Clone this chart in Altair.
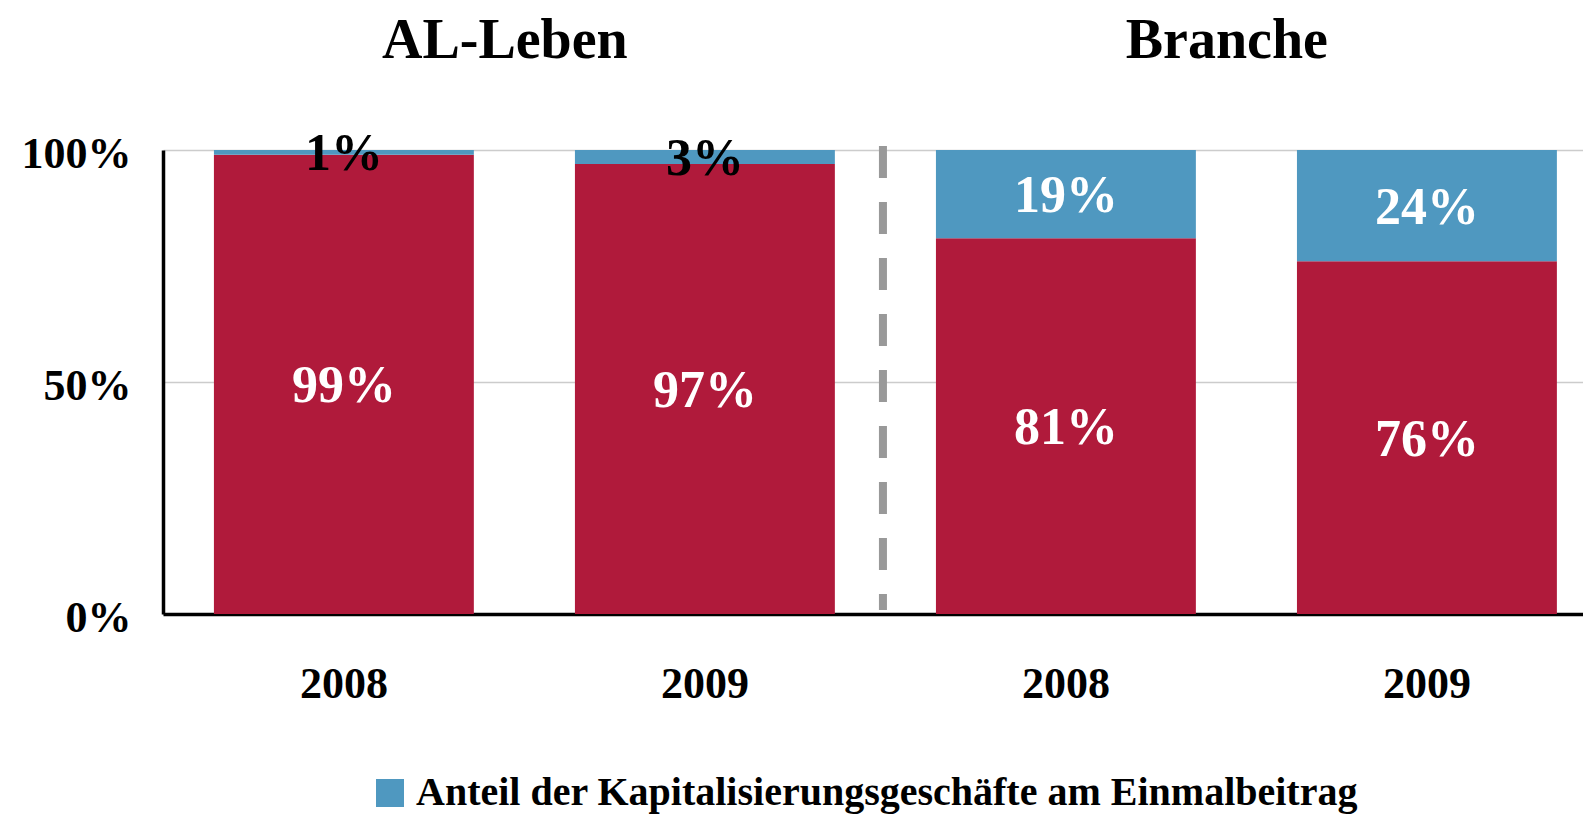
import altair as alt
import pandas as pd

groups = ["AL-Leben", "AL-Leben", "Branche", "Branche"]
years = ["2008", "2009", "2008", "2009"]
kapital = [1, 3, 19, 24]
rest = [99, 97, 81, 76]
s_kap = "Anteil der Kapitalisierungsgeschäfte am Einmalbeitrag"
s_rest = "Sonstige Einmalbeiträge"
group_titles = ["AL-Leben", "Branche"]

RED = "#B01A3B"
BLUE = "#4F98C0"
FONT = "Liberation Serif"

cats = [f"{g} {y}" for g, y in zip(groups, years)]
rows = []
for c, k, r in zip(cats, kapital, rest):
    rows.append({"cat": c, "series": s_rest, "value": r, "order": 0, "label": f"{r}%"})
    rows.append({"cat": c, "series": s_kap, "value": k, "order": 1, "label": f"{k}%"})
df = pd.DataFrame(rows)

first_cat = {}
for g, c in zip(groups, cats):
    first_cat.setdefault(g, c)
titles_df = pd.DataFrame({"cat": [first_cat[t] for t in group_titles], "title": group_titles})
sep_df = pd.DataFrame({"cat": [first_cat[group_titles[1]]]})

xscale = alt.Scale(paddingInner=0.28, paddingOuter=0.1067, align=0.661)
yscale = alt.Scale(domain=[0, 100])

x_enc = alt.X(
    "cat:N", sort=cats, scale=xscale, title=None,
    axis=alt.Axis(
        labelExpr="split(datum.label, ' ')[1]", labelAngle=0, ticks=False, tickSize=0,
        domainColor="black", domainWidth=3.5, labelFont=FONT, labelFontSize=44,
        labelFontWeight="bold", labelColor="black", labelPadding=83,
        labelBaseline="alphabetic", grid=False,
    ),
)

bars = alt.Chart(df).mark_bar().encode(
    x=x_enc,
    y=alt.Y(
        "value:Q", stack="zero", scale=yscale, title=None,
        axis=alt.Axis(
            values=[0, 50, 100], labelExpr="datum.value + '%'", grid=True,
            gridColor="#cccccc", gridWidth=1.5, domainColor="black", domainWidth=3.5,
            ticks=False, tickSize=0, labelFont=FONT, labelFontSize=44,
            labelFontWeight="bold", labelColor="black", labelPadding=32,
            labelBaseline="alphabetic", labelOffset=17,
        ),
    ),
    color=alt.Color(
        "series:N",
        scale=alt.Scale(domain=[s_kap, s_rest], range=[BLUE, RED]),
        legend=alt.Legend(
            title=None, orient="none", legendX=207, legendY=623, values=[s_kap],
            symbolType="square", symbolSize=784, symbolStrokeWidth=0,
            labelFont=FONT, labelFontSize=40, labelFontWeight="bold",
            labelColor="black", labelOffset=6, labelLimit=3000,
        ),
    ),
    order=alt.Order("order:Q"),
)

labels = (
    alt.Chart(df)
    .transform_stack(
        stack="value", groupby=["cat"], sort=[alt.SortField("order", order="ascending")],
        as_=["y0", "y1"],
    )
    .transform_calculate(mid="(datum.y0 + datum.y1) / 2")
    .mark_text(font=FONT, fontSize=52, fontWeight="bold", baseline="middle", dy=2)
    .encode(
        x=alt.X("cat:N", sort=cats, scale=xscale),
        y=alt.Y("mid:Q", scale=yscale),
        text="label:N",
        color=alt.condition(alt.datum.value < 10, alt.value("black"), alt.value("white")),
    )
)

titles = alt.Chart(titles_df).mark_text(
    font=FONT, fontSize=56, fontWeight="bold", baseline="alphabetic", align="center",
    dx=31, color="black",
).encode(
    x=alt.X("cat:N", sort=cats, scale=xscale, bandPosition=1),
    y=alt.value(-92),
    text="title:N",
)

sep = alt.Chart(sep_df).mark_rule(
    color="#999999", strokeWidth=8, strokeDash=[32, 24], xOffset=-53
).encode(
    x=alt.X("cat:N", sort=cats, scale=xscale, bandPosition=0),
    y=alt.value(-4),
    y2=alt.value(460),
)

chart = (
    alt.layer(bars, sep, labels, titles)
    .properties(
        width=1420, height=464,
        autosize=alt.AutoSizeParams(type="none"),
        padding={"left": 155, "top": 142, "right": 0, "bottom": 200},
        background="white",
    )
    .configure_view(stroke=None)
)

chart.save("out.html", embed_options={"renderer": "svg", "actions": False})
